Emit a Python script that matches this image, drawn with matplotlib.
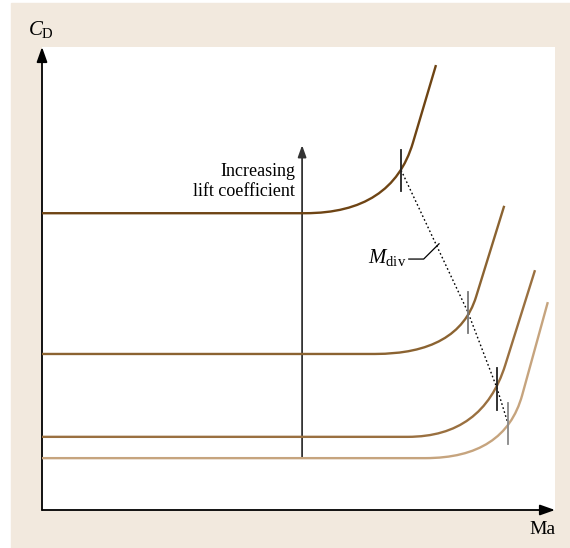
import matplotlib
matplotlib.use("Agg")
import matplotlib.pyplot as plt
from matplotlib.path import Path
from matplotlib.patches import PathPatch, Rectangle

plt.rcParams["font.family"] = ["Liberation Serif", "DejaVu Serif"]
plt.rcParams["mathtext.fontset"] = "custom"
plt.rcParams["mathtext.rm"] = "Liberation Serif"
plt.rcParams["mathtext.it"] = "Liberation Serif:italic"

# drag curves for increasing lift coefficient (arbitrary units, 0..100)
cd0 = [64.1, 33.7, 15.8, 11.2]          # flat drag level
rise_start = [51.3, 64.9, 71.3, 74.7]   # Ma where drag begins to rise
knee_ma = [72.3, 84.6, 90.3, 93.6]
knee_cd = [79.3, 46.0, 31.3, 24.8]
end_ma = [76.8, 90.1, 96.1, 98.6]
end_cd = [96.1, 65.7, 51.8, 44.9]
colors = ["#6e4414", "#8b6331", "#9a7040", "#c6a47e"]

# drag divergence points
div_ma = [70.0, 83.0, 88.7, 90.8]
div_cd = [73.4, 42.8, 26.3, 18.8]
tick_colors = ["#222222", "#777777", "#222222", "#888888"]

arrow_ma = 50.7
arrow_base = 11.2
arrow_tip = 78.8

fig = plt.figure(figsize=(5.70, 5.48), dpi=100)
fig.add_artist(Rectangle((11 / 570, 0), 559 / 570, 545 / 548,
                         transform=fig.transFigure, color="#f2e9de", zorder=-5))

ax = fig.add_axes([42 / 570, 38 / 548, 513 / 570, 463 / 548])
ax.set_facecolor("white")
ax.set_xlim(0, 100)
ax.set_ylim(0, 100)
for s in ax.spines.values():
    s.set_visible(False)
ax.set_xticks([])
ax.set_yticks([])

# axes with arrows
ax.annotate("", xy=(1.0, 0), xytext=(0, 0), xycoords="axes fraction",
            arrowprops=dict(arrowstyle="-|>,head_length=0.9,head_width=0.32",
                            color="black", lw=1.3, shrinkA=0, shrinkB=0))
ax.annotate("", xy=(0, 1.0), xytext=(0, 0), xycoords="axes fraction",
            arrowprops=dict(arrowstyle="-|>,head_length=0.9,head_width=0.32",
                            color="black", lw=1.3, shrinkA=0, shrinkB=0))

for i in range(4):
    # control point: flat level meets the straight steep part
    slope = (end_cd[i] - knee_cd[i]) / (end_ma[i] - knee_ma[i])
    ctrl_ma = knee_ma[i] - (knee_cd[i] - cd0[i]) / slope
    verts = [(0, cd0[i]), (rise_start[i], cd0[i]),
             (ctrl_ma, cd0[i]), (knee_ma[i], knee_cd[i]),
             (end_ma[i], end_cd[i])]
    codes = [Path.MOVETO, Path.LINETO, Path.CURVE3, Path.CURVE3, Path.LINETO]
    ax.add_patch(PathPatch(Path(verts, codes), fill=False, ec=colors[i],
                           lw=1.7, capstyle="butt", zorder=3))

# divergence ticks and dotted locus
for i in range(4):
    ax.plot([div_ma[i], div_ma[i]], [div_cd[i] - 4.6, div_cd[i] + 4.3],
            color=tick_colors[i], lw=1.3, zorder=4)
ax.plot(div_ma, div_cd, color="black", lw=1.0, ls=(0, (1.2, 1.8)), zorder=2)

# increasing lift arrow
ax.annotate("", xy=(arrow_ma, arrow_tip), xytext=(arrow_ma, arrow_base),
            arrowprops=dict(arrowstyle="-|>,head_length=0.7,head_width=0.25",
                            color="#333333", lw=1.3, shrinkA=0, shrinkB=0),
            zorder=2)
ax.text(arrow_ma - 1.4, 71.0, "Increasing\nlift coefficient", ha="right",
        va="center", multialignment="right", fontsize=13, linespacing=1.2)

# M_div label with leader
ax.plot([71.5, 74.4, 77.4], [54.2, 54.2, 57.5], color="black", lw=0.9)
ax.text(71.0, 54.6, r"$M_{\mathrm{div}}$", ha="right", va="center", fontsize=15)

fig.text(28 / 570, 1 - 30 / 548, r"$C_{\mathrm{D}}$", fontsize=15,
         ha="left", va="center")
fig.text(542 / 570, 1 - 530 / 548, "Ma", fontsize=14, ha="center", va="center")

fig.savefig("out.png", dpi=100)
